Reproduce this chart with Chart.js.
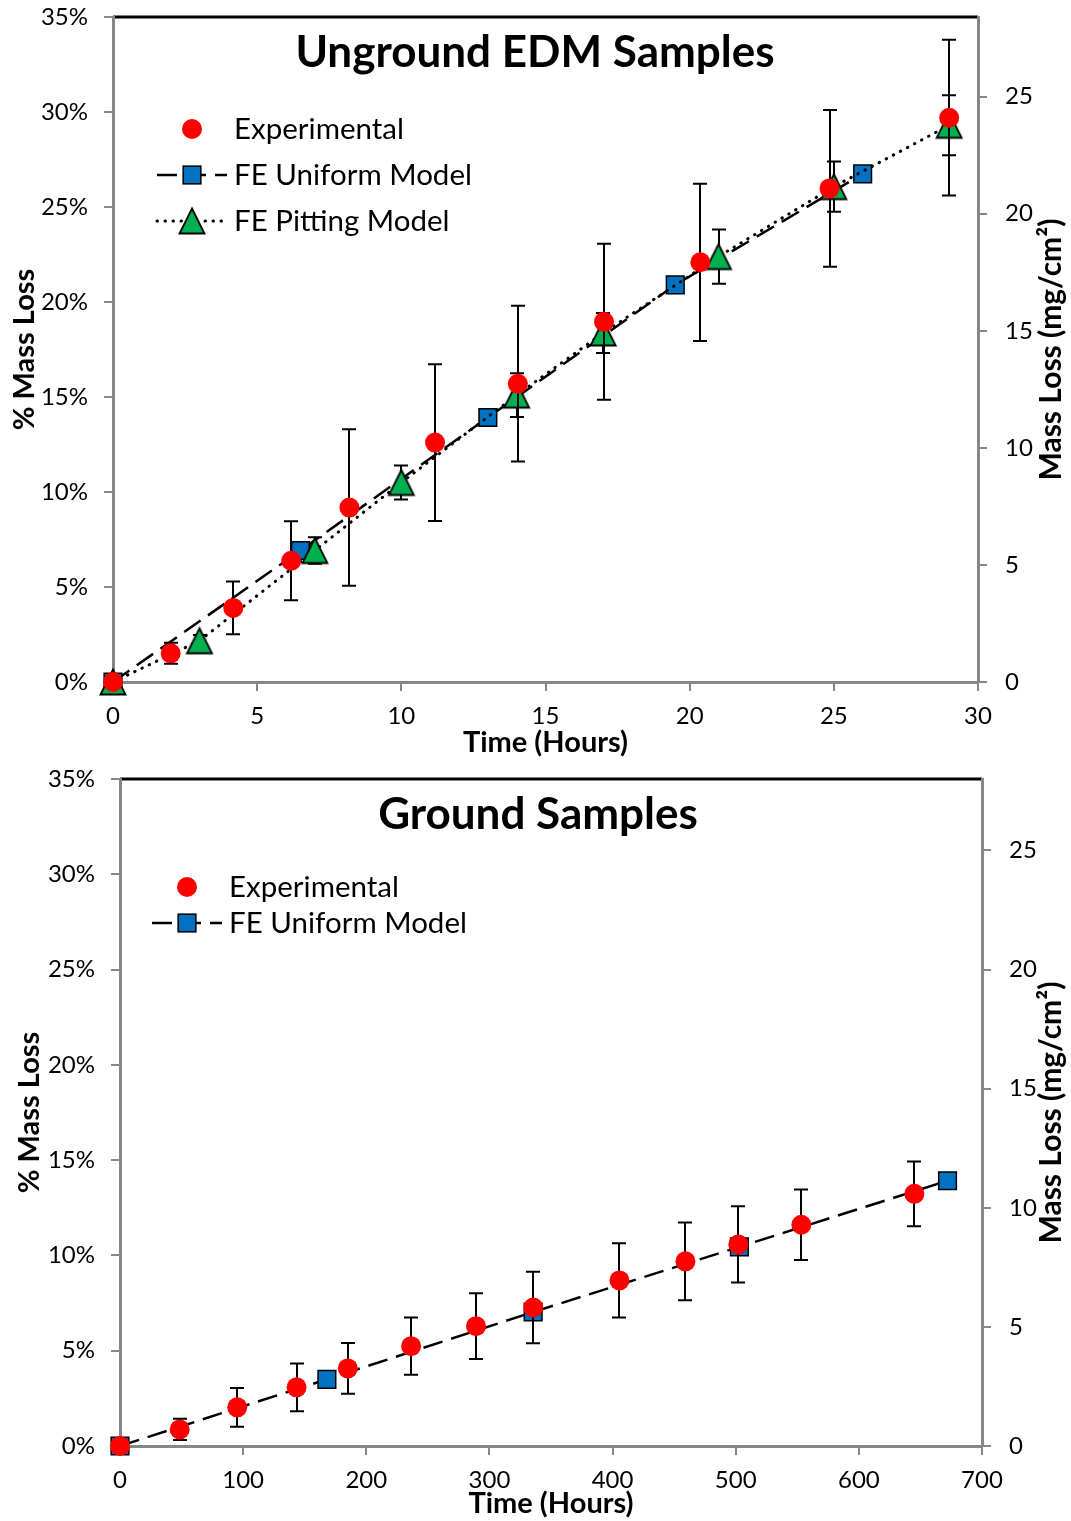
<!DOCTYPE html>
<html>
<head>
<meta charset="utf-8">
<title>Mass loss vs time</title>
<script src="https://cdn.jsdelivr.net/npm/chart.js@4.4.1/dist/chart.umd.min.js"></script>
<style>
  html, body { margin: 0; padding: 0; background: #fff; }
  canvas { display: block; }
</style>
</head>
<body>
<canvas id="edmChart" width="1071" height="760"></canvas>
<canvas id="groundChart" width="1071" height="761"></canvas>
<script>
// --- Unground EDM samples (hours, % mass loss, +/- error) ---
const edmExpHours = [0, 2, 4.17, 6.18, 8.2, 11.17, 14.04, 17.03, 20.37, 24.85, 29];
const edmExpLoss  = [0, 1.51, 3.9, 6.38, 9.18, 12.6, 15.7, 18.96, 22.09, 25.98, 29.7];
const edmExpErr   = [0, 0.55, 1.39, 2.08, 4.12, 4.12, 4.1, 4.1, 4.14, 4.12, 4.1];
const edmUniHours = [0, 6.5, 13, 19.5, 26];
const edmUniLoss  = [0, 6.92, 13.92, 20.9, 26.74];
const edmPitHours = [0, 3, 7, 10, 14, 17, 21, 25, 29];
const edmPitLoss  = [0, 2.17, 6.92, 10.5, 15.1, 18.37, 22.39, 26.07, 29.3];
const edmPitErr   = [0, 0.3, 0.7, 0.9, 1.15, 1.05, 1.43, 1.32, 1.58];
const edmHourTicks = [0, 5, 10, 15, 20, 25, 30];

// --- Ground samples ---
const grdExpHours = [0, 48.5, 95.2, 143.4, 185, 236.4, 289.1, 335.6, 405.6, 459.2, 502.1, 553.3, 645.1];
const grdExpLoss  = [0, 0.87, 2.03, 3.08, 4.07, 5.24, 6.29, 7.27, 8.69, 9.69, 10.58, 11.61, 13.23];
const grdExpErr   = [0, 0.56, 1.02, 1.25, 1.33, 1.5, 1.72, 1.88, 1.95, 2.04, 2.0, 1.85, 1.7];
const grdUniHours = [0, 168, 335.5, 503, 672];
const grdUniLoss  = [0, 3.5, 7.03, 10.45, 13.92];
const grdHourTicks = [0, 100, 200, 300, 400, 500, 600, 700];

// shared axis ticks
const percentTicks = [0, 5, 10, 15, 20, 25, 30, 35];
const mgTicks = [0, 5, 10, 15, 20, 25];

const FONT = "Lato, Carlito, 'Liberation Sans', sans-serif";
const AXIS_GRAY = '#878787';
const RED = '#FF0000';
const BLUE = '#0070C0';
const GREEN = '#00B050';

Chart.defaults.font.family = FONT;
Chart.defaults.color = '#000';

// triangle marker like Excel's (fits its box, centred on the point)
function makeTriangle() {
    const c = document.createElement('canvas');
    c.width = 30; c.height = 30;
    const g = c.getContext('2d');
    g.beginPath();
    g.moveTo(15, 2.5);
    g.lineTo(27.5, 27.5);
    g.lineTo(2.5, 27.5);
    g.closePath();
    g.fillStyle = GREEN;
    g.fill();
    g.lineWidth = 1.8;
    g.strokeStyle = '#000';
    g.stroke();
    return c;
}
const triMarker = makeTriangle();

function pts(xs, ys) {
    return xs.map((x, i) => ({ x: x, y: ys[i] }));
}

function expDataset(xs, ys, errs) {
    return {
        label: 'Experimental',
        data: pts(xs, ys),
        errors: errs,
        showLine: false,
        pointStyle: 'circle',
        pointRadius: 10,
        pointBackgroundColor: RED,
        pointBorderWidth: 0,
        clip: false
    };
}

function uniDataset(xs, ys) {
    return {
        label: 'FE Uniform Model',
        data: pts(xs, ys),
        showLine: true,
        borderColor: '#000',
        borderWidth: 2.5,
        borderDash: [20, 9],
        tension: 0,
        pointStyle: 'rect',
        pointRadius: 12.5,
        pointBackgroundColor: BLUE,
        pointBorderColor: '#000',
        pointBorderWidth: 1.5,
        clip: false
    };
}

function pitDataset(xs, ys, errs) {
    return {
        label: 'FE Pitting Model',
        data: pts(xs, ys),
        errors: errs,
        showLine: true,
        borderColor: '#000',
        borderWidth: 3,
        borderDash: [0.5, 7.5],
        borderCapStyle: 'round',
        tension: 0,
        pointStyle: triMarker,
        pointRadius: 13,
        clip: false
    };
}

// error bars go under each series' own markers
const errorBarPlugin = {
    id: 'errorBars',
    beforeDatasetDraw(chart, args) {
        const ds = chart.data.datasets[args.index];
        if (!ds.errors) return;
        const ctx = chart.ctx;
        const xs = chart.scales.x;
        const ys = chart.scales.y;
        ctx.save();
        ctx.strokeStyle = '#000';
        ctx.lineWidth = 2;
        ds.data.forEach((p, i) => {
            const e = ds.errors[i];
            if (!e) return;
            const px = Math.round(xs.getPixelForValue(p.x));
            const top = ys.getPixelForValue(p.y + e);
            const bot = ys.getPixelForValue(p.y - e);
            ctx.beginPath();
            ctx.moveTo(px, top); ctx.lineTo(px, bot);
            ctx.moveTo(px - 7, top); ctx.lineTo(px + 7, top);
            ctx.moveTo(px - 7, bot); ctx.lineTo(px + 7, bot);
            ctx.stroke();
        });
        ctx.restore();
    }
};

// black plot border on top, title, right axis title and the in-plot legend
const framePlugin = {
    id: 'frame',
    beforeDraw(chart) {
        const a = chart.chartArea;
        const ctx = chart.ctx;
        ctx.save();
        ctx.strokeStyle = '#000';
        ctx.lineWidth = 3;
        ctx.beginPath();
        ctx.moveTo(a.left, a.top);
        ctx.lineTo(a.right, a.top);
        ctx.stroke();
        ctx.restore();
    },
    afterDraw(chart, args, opts) {
        const ctx = chart.ctx;
        const a = chart.chartArea;
        ctx.save();
        ctx.fillStyle = '#000';
        ctx.font = 'bold 44px ' + FONT;
        ctx.textAlign = 'center';
        ctx.textBaseline = 'alphabetic';
        ctx.fillText(opts.title, opts.titleX, opts.titleY);

        // right axis title reads bottom to top, like the left one
        ctx.save();
        ctx.translate(opts.rightTitleX, (a.top + a.bottom) / 2);
        ctx.rotate(-Math.PI / 2);
        ctx.font = 'bold 30px ' + FONT;
        ctx.textBaseline = 'middle';
        ctx.fillText('Mass Loss (mg/cm²)', 0, 0);
        ctx.restore();

        ctx.font = '29.5px ' + FONT;
        ctx.textAlign = 'left';
        chart.data.datasets.forEach((ds, i) => {
            const y = opts.rowY[i];
            const mx = opts.markerX;
            if (ds.showLine) {
                ctx.save();
                ctx.strokeStyle = '#000';
                ctx.lineWidth = ds.borderWidth;
                ctx.lineCap = ds.borderCapStyle || 'butt';
                ctx.setLineDash(ds.borderDash);
                ctx.beginPath();
                ctx.moveTo(mx - 35, y);
                ctx.lineTo(mx + 35, y);
                ctx.stroke();
                ctx.restore();
            }
            if (ds.pointStyle === 'circle') {
                ctx.beginPath();
                ctx.arc(mx, y, 10, 0, Math.PI * 2);
                ctx.fillStyle = RED;
                ctx.fill();
            } else if (ds.pointStyle === 'rect') {
                const s = 17.7;
                ctx.fillStyle = BLUE;
                ctx.fillRect(mx - s / 2, y - s / 2, s, s);
                ctx.lineWidth = 1.5;
                ctx.strokeStyle = '#000';
                ctx.strokeRect(mx - s / 2, y - s / 2, s, s);
            } else {
                ctx.drawImage(triMarker, mx - 15, y - 15);
            }
            ctx.fillStyle = '#000';
            ctx.fillText(ds.label, opts.textX, opts.baseY[i]);
        });
        ctx.restore();
    }
};

function axisTitle(text, pad) {
    return {
        display: true,
        text: text,
        color: '#000',
        font: { size: 29, weight: 'bold' },
        padding: { top: pad, bottom: 0 }
    };
}

function tickGrid() {
    return { drawOnChartArea: false, drawTicks: true, tickLength: 9, color: AXIS_GRAY, lineWidth: 2 };
}

// pin the box sizes so the plot area sits where the original one does
function pinWidth(w) {
    return s => { s.width = w; s.paddingTop = 0; s.paddingBottom = 0; };
}
function pinHeight(h) {
    return s => { s.height = h; s.paddingLeft = 0; s.paddingRight = 0; };
}

function buildChart(canvasId, datasets, layout) {
    return new Chart(document.getElementById(canvasId), {
        type: 'scatter',
        data: { datasets: datasets },
        plugins: [errorBarPlugin, framePlugin],
        options: {
            responsive: false,
            animation: false,
            events: [],
            layout: { padding: { top: layout.top, left: 0, right: 0, bottom: 0 } },
            scales: {
                x: {
                    type: 'linear',
                    position: 'bottom',
                    min: 0,
                    max: layout.hourTicks[layout.hourTicks.length - 1],
                    afterBuildTicks: s => { s.ticks = layout.hourTicks.map(v => ({ value: v })); },
                    afterFit: pinHeight(layout.xHeight),
                    grid: tickGrid(),
                    border: { color: AXIS_GRAY, width: 3 },
                    ticks: { font: { size: 24 }, padding: 11, maxRotation: 0, autoSkip: false },
                    title: axisTitle('Time (Hours)', layout.xTitlePad)
                },
                y: {
                    type: 'linear',
                    position: 'left',
                    min: 0,
                    max: 35,
                    afterBuildTicks: s => { s.ticks = percentTicks.map(v => ({ value: v })); },
                    afterFit: pinWidth(layout.leftW),
                    grid: tickGrid(),
                    border: { color: AXIS_GRAY, width: 3 },
                    ticks: { font: { size: 24 }, padding: 16, callback: v => v + '%' },
                    title: axisTitle('% Mass Loss', layout.yTitlePad)
                },
                y2: {
                    type: 'linear',
                    position: 'right',
                    min: 0,
                    max: layout.mgMax,
                    afterBuildTicks: s => { s.ticks = mgTicks.map(v => ({ value: v })); },
                    afterFit: pinWidth(layout.rightW),
                    grid: tickGrid(),
                    border: { color: AXIS_GRAY, width: 3 },
                    ticks: { font: { size: 24 }, padding: 18 }
                }
            },
            plugins: {
                legend: { display: false },
                tooltip: { enabled: false },
                frame: layout.frame
            }
        }
    });
}

buildChart('edmChart',
    [
        expDataset(edmExpHours, edmExpLoss, edmExpErr),
        pitDataset(edmPitHours, edmPitLoss, edmPitErr),
        uniDataset(edmUniHours, edmUniLoss)
    ],
    {
        top: 17, xHeight: 78, leftW: 113, rightW: 93, mgMax: 28.4,
        hourTicks: edmHourTicks, xTitlePad: 2, yTitlePad: 7,
        frame: {
            title: 'Unground EDM Samples', titleX: 535, titleY: 67,
            rightTitleX: 1051,
            markerX: 192, textX: 234,
            rowY: [129, 221, 175], baseY: [139, 231, 185]
        }
    });

buildChart('groundChart',
    [
        expDataset(grdExpHours, grdExpLoss, grdExpErr),
        uniDataset(grdUniHours, grdUniLoss)
    ],
    {
        top: 19, xHeight: 75, leftW: 120, rightW: 89, mgMax: 28.0,
        hourTicks: grdHourTicks, xTitlePad: 1, yTitlePad: 12,
        frame: {
            title: 'Ground Samples', titleX: 538, titleY: 69,
            rightTitleX: 1051,
            markerX: 187, textX: 229,
            rowY: [127, 163], baseY: [137, 173]
        }
    });
</script>
</body>
</html>
